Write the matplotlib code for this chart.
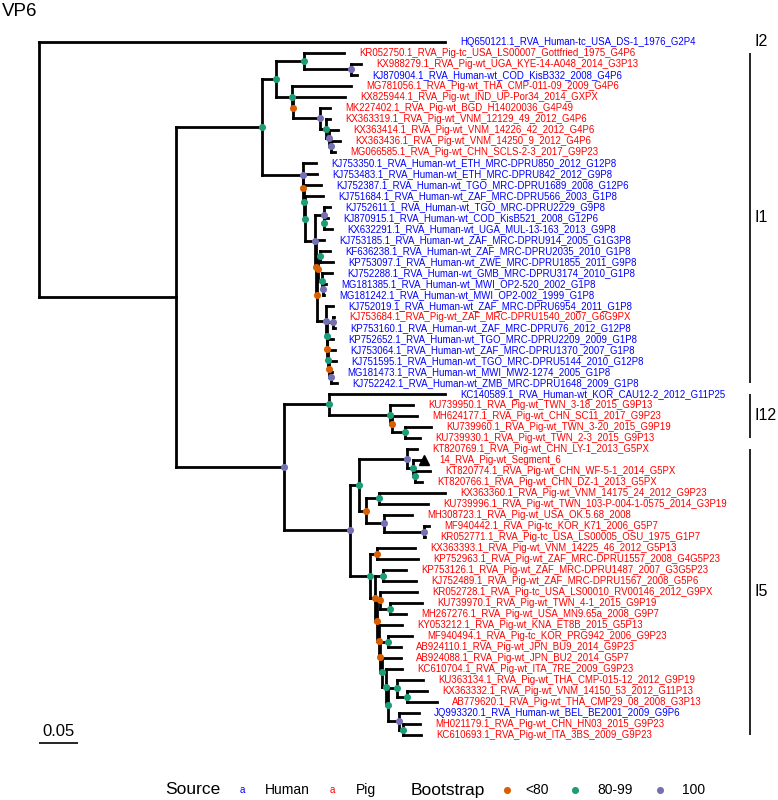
import re
import matplotlib
matplotlib.use("Agg")
import matplotlib.pyplot as plt
from matplotlib.collections import LineCollection

plt.rcParams['font.family'] = ['Liberation Sans', 'DejaVu Sans']

# ---------------- data ----------------
# VP6 phylogeny (branch lengths in substitutions/site); internal labels = bootstrap class
# o: <80, g: 80-99, p: 100
TREE_NEWICK = """
(HQ650121.1_RVA_Human-tc_USA_DS-1_1976_G2P4:0.5205,
 (
  (
   (
    (KR052750.1_RVA_Pig-tc_USA_LS00007_Gottfried_1975_G4P6:0.0513,
     (KX988279.1_RVA_Pig-wt_UGA_KYE-14-A048_2014_G3P13:0.0128,
      KJ870904.1_RVA_Human-wt_COD_KisB332_2008_G4P6:0.0077)p:0.0603)g:0.0359,
    (MG781056.1_RVA_Pig-wt_THA_CMP-011-09_2009_G4P6:0.0756,
     (KX825944.1_RVA_Pig-wt_IND_UP-Por34_2014_GXPX:0.0667,
      (MK227402.1_RVA_Pig-wt_BGD_H14020036_G4P49:0.0128,
       (KX363319.1_RVA_Pig-wt_VNM_12129_49_2012_G4P6:0.0051,
        (KX363414.1_RVA_Pig-wt_VNM_14226_42_2012_G4P6:0.0115,
         (KX363436.1_RVA_Pig-wt_VNM_14250_9_2012_G4P6:0.0115,
          MG066585.1_RVA_Pig-wt_CHN_SCLS-2-3_2017_G9P23:0.0051)p:0.0026)p:0.0038)g:0.0077)p:0.0346)o:0.0013)g:0.0205
   )g:0.0179,
   (KJ753350.1_RVA_Human-wt_ETH_MRC-DPRU850_2012_G12P8:0.0167,
    (KJ753483.1_RVA_Human-wt_ETH_MRC-DPRU842_2012_G9P8:0.0179,
     (KJ752387.1_RVA_Human-wt_TGO_MRC-DPRU1689_2008_G12P6:0.0218,
      (KJ751684.1_RVA_Human-wt_ZAF_MRC-DPRU566_2003_G1P8:0.0231,
       (
        (KJ752611.1_RVA_Human-wt_TGO_MRC-DPRU2229_G9P8:0.0077,
         (KJ870915.1_RVA_Human-wt_COD_KisB521_2008_G12P6:0.0051,
          KX632291.1_RVA_Human-wt_UGA_MUL-13-163_2013_G9P8:0.0103)g:0.0005)p:0.0115,
        (KJ753185.1_RVA_Human-wt_ZAF_MRC-DPRU914_2005_G1G3P8:0.0103,
         (
          ((KF636238.1_RVA_Human-wt_ZAF_MRC-DPRU2035_2010_G1P8:0.0128,
            KP753097.1_RVA_Human-wt_ZWE_MRC-DPRU1855_2011_G9P8:0.0167)g:0.0026,
           (KJ752288.1_RVA_Human-wt_GMB_MRC-DPRU3174_2010_G1P8:0.0128,
            (MG181385.1_RVA_Human-wt_MWI_OP2-520_2002_G1P8:0.0038,
             MG181242.1_RVA_Human-wt_MWI_OP2-002_1999_G1P8:0.0013)p:0.0013)g:0.0051)o:0.0013,
          (KJ752019.1_RVA_Human-wt_ZAF_MRC-DPRU6954_2011_G1P8:0.0090,
           ((KJ753684.1_RVA_Pig-wt_ZAF_MRC-DPRU1540_2007_G6G9PX:0.0013,
             KP753160.1_RVA_Human-wt_ZAF_MRC-DPRU76_2012_G12P8:0.0026)p:0.0077,
            (KP752652.1_RVA_Human-wt_TGO_MRC-DPRU2209_2009_G1P8:0.0077,
             (KJ753064.1_RVA_Human-wt_ZAF_MRC-DPRU1370_2007_G1P8:0.0090,
              (KJ751595.1_RVA_Human-wt_TGO_MRC-DPRU5144_2010_G12P8:0.0090,
               (MG181473.1_RVA_Human-wt_MWI_MW2-1274_2005_G1P8:0.0013,
                KJ752242.1_RVA_Human-wt_ZMB_MRC-DPRU1648_2009_G1P8:0.0077)p:0.0026)o:0.0013)g:0.0013)o:0.0005)g:0.0013)p:0.0115
         )o:0.0013
        )o:0.0013
       )p:0.0128
      )g:0.0005)g:0.0013)o:0.0005)p:0.0526
  )g:0.1103,
  (
   (KC140589.1_RVA_Human-wt_KOR_CAU12-2_2012_G11P25:0.1487,
    (KU739950.1_RVA_Pig-wt_TWN_3-18_2015_G9P13:0.0295,
     (MH624177.1_RVA_Pig-wt_CHN_SC11_2017_G9P23:0.0321,
      (KU739960.1_RVA_Pig-wt_TWN_3-20_2015_G9P19:0.0333,
       KU739930.1_RVA_Pig-wt_TWN_2-3_2015_G9P13:0.0192)g:0.0167)o:0.0026)g:0.0782)g:0.0577,
   (
    (
     (KT820769.1_RVA_Pig-wt_CHN_LY-1_2013_G5PX:0.0128,
      (14_RVA_Pig-wt_Segment_6:0.0141,
       (KT820774.1_RVA_Pig-wt_CHN_WF-5-1_2014_G5PX:0.0192,
        KT820766.1_RVA_Pig-wt_CHN_DZ-1_2013_G5PX:0.0090)g:0.0026)g:0.0077)p:0.0615,
     ((KX363360.1_RVA_Pig-wt_VNM_14175_24_2012_G9P23:0.0846,
       KU739996.1_RVA_Pig-wt_TWN_103-P-004-1-0575_2014_G3P19:0.0628)g:0.0167,
      (MH308723.1_RVA_Pig-wt_USA_OK.5.68_2008:0.0359,
       (MF940442.1_RVA_Pig-tc_KOR_K71_2006_G5P7:0.0064,
        KR052771.1_RVA_Pig-tc_USA_LS00005_OSU_1975_G1P7:0.0013)p:0.0513)p:0.0231)o:0.0090
    )g:0.0115,
    (
     (KX363393.1_RVA_Pig-wt_VNM_14225_46_2012_G5P13:0.0487,
      KP752963.1_RVA_Pig-wt_ZAF_MRC-DPRU1557_2008_G4G5P23:0.0526)o:0.0090,
     (
      (KP753126.1_RVA_Pig-wt_ZAF_MRC-DPRU1487_2007_G3G5P23:0.0295,
       KJ752489.1_RVA_Pig-wt_ZAF_MRC-DPRU1567_2008_G5P6:0.0423)g:0.0103,
      (
       (KR052728.1_RVA_Pig-tc_USA_LS00010_RV00146_2012_G9PX:0.0474,
        (KU739970.1_RVA_Pig-wt_TWN_4-1_2015_G9P19:0.0410,
         MH267276.1_RVA_Pig-wt_USA_MN9.65a_2008_G9P7:0.0205)g:0.0128)o:0.0038,
       (KY053212.1_RVA_Pig-wt_KNA_ET8B_2015_G5P13:0.0295,
        ((MF940494.1_RVA_Pig-tc_KOR_PRG942_2006_G9P23:0.0308,
          AB924110.1_RVA_Pig-wt_JPN_BU9_2014_G9P23:0.0167)g:0.0103,
         (AB924088.1_RVA_Pig-wt_JPN_BU2_2014_G5P7:0.0244,
          (KC610704.1_RVA_Pig-wt_ITA_7RE_2009_G9P23:0.0205,
           ((KU363134.1_RVA_Pig-wt_THA_CMP-015-12_2012_G9P19:0.0333,
             (KX363332.1_RVA_Pig-wt_VNM_14150_53_2012_G11P13:0.0256,
              AB779620.1_RVA_Pig-wt_THA_CMP29_08_2008_G3P13:0.0385)g:0.0128)g:0.0115,
            (JQ993320.1_RVA_Human-wt_BEL_BE2001_2009_G9P6:0.0256,
             (MH021179.1_RVA_Pig-wt_CHN_HN03_2015_G9P23:0.0218,
              KC610693.1_RVA_Pig-wt_ITA_3BS_2009_G9P23:0.0231)g:0.0051)p:0.0141)g:0.0026)g:0.0051)g:0.0026)o:0.0013)o:0.0026
      )o:0.0026
     )o:0.0064
    )g:0.0256
   )p:0.0846
  )p:0.1385
 ):0.1756
);
"""

bootstrap_codes = {'o': '<80', 'g': '80-99', 'p': '100'}
bootstrap_levels = ['<80', '80-99', '100']
bootstrap_colors = ['#D95F02', '#1B9E77', '#7570B3']
source_levels = ['Human', 'Pig']
source_colors = ['#0000FF', '#FF0000']

clade_names = ['I2', 'I1', 'I12', 'I5']
clade_first = ['HQ650121.1_RVA_Human-tc_USA_DS-1_1976_G2P4',
               'KR052750.1_RVA_Pig-tc_USA_LS00007_Gottfried_1975_G4P6',
               'KC140589.1_RVA_Human-wt_KOR_CAU12-2_2012_G11P25',
               'KT820769.1_RVA_Pig-wt_CHN_LY-1_2013_G5PX']
clade_last = ['HQ650121.1_RVA_Human-tc_USA_DS-1_1976_G2P4',
              'KJ752242.1_RVA_Human-wt_ZMB_MRC-DPRU1648_2009_G1P8',
              'KU739930.1_RVA_Pig-wt_TWN_2-3_2015_G9P13',
              'KC610693.1_RVA_Pig-wt_ITA_3BS_2009_G9P23']
marked_tips = ['14_RVA_Pig-wt_Segment_6']
scale_length = 0.05
title = 'VP6'

# ---------------- parse ----------------
def parse_newick(s):
    s = re.sub(r"\s+", "", s)
    pos = 0

    def node():
        nonlocal pos
        n = {'children': [], 'name': '', 'length': 0.0}
        if s[pos] == '(':
            pos += 1
            while True:
                n['children'].append(node())
                if s[pos] == ',':
                    pos += 1
                    continue
                if s[pos] == ')':
                    pos += 1
                    break
        m = re.match(r"[^:,();]*", s[pos:])
        n['name'] = m.group(0)
        pos += len(n['name'])
        if pos < len(s) and s[pos] == ':':
            pos += 1
            m = re.match(r"[0-9.eE+-]+", s[pos:])
            n['length'] = float(m.group(0))
            pos += len(m.group(0))
        return n

    return node()


root = parse_newick(TREE_NEWICK)
tips = []


def layout(n, x0):
    n['x'] = x0 + n['length']
    if n['children']:
        for c in n['children']:
            layout(c, n['x'])
        n['y'] = sum(c['y'] for c in n['children']) / len(n['children'])
    else:
        n['y'] = len(tips)
        tips.append(n)


root['length'] = 0.0
layout(root, 0.0)

# ---------------- figure ----------------
W, H, DPI = 778, 800, 100
ROOT_PX, UNIT_PX = 39, 780.0      # pixel of root, pixels per substitution unit
TIP0_PX, STEP_PX = 42, 11.0       # pixel of first tip, tip spacing

fig = plt.figure(figsize=(W / DPI, H / DPI), dpi=DPI)
ax = fig.add_axes([0, 0, 1, 1])
ax.set_xlim(-ROOT_PX / UNIT_PX, (W - ROOT_PX) / UNIT_PX)
ax.set_ylim((H - TIP0_PX) / STEP_PX, -TIP0_PX / STEP_PX)
ax.axis('off')

segs = []
pts = {lvl: ([], []) for lvl in bootstrap_levels}


def collect(n, parent=None):
    if parent is not None:
        segs.append([(parent['x'], n['y']), (n['x'], n['y'])])
    if n['children']:
        ys = [c['y'] for c in n['children']]
        segs.append([(n['x'], min(ys)), (n['x'], max(ys))])
        lvl = bootstrap_codes.get(n['name'])
        if lvl:
            pts[lvl][0].append(n['x'])
            pts[lvl][1].append(n['y'])
        for c in n['children']:
            collect(c, n)


collect(root)
ax.add_collection(LineCollection(segs, colors='black', linewidths=2.0,
                                 capstyle='projecting', zorder=2))
for lvl, col in zip(bootstrap_levels, bootstrap_colors):
    ax.scatter(pts[lvl][0], pts[lvl][1], s=26, color=col, zorder=3, linewidths=0)

label_offset = 15 / UNIT_PX
for t in tips:
    src = 'Human' if 'Human' in t['name'] else 'Pig'
    col = source_colors[source_levels.index(src)]
    ax.text(t['x'] + label_offset, t['y'], t['name'], color=col, fontsize=6.9,
            ha='left', va='center', zorder=4)
    if t['name'] in marked_tips:
        ax.plot([t['x']], [t['y']], marker='^', color='black', markersize=6.5, zorder=4)

# clade bars
tip_y = {t['name']: t['y'] for t in tips}
bar_x = (750 - ROOT_PX) / UNIT_PX
for name, a, b in zip(clade_names, clade_first, clade_last):
    y0, y1 = tip_y[a], tip_y[b]
    ax.plot([bar_x, bar_x], [y0, y1], color='black', linewidth=1.2, solid_capstyle='butt')
    ax.text(bar_x + 5 / UNIT_PX, (y0 + y1) / 2, name, fontsize=11.5,
            ha='left', va='center')

# scale bar
sb_y = (743 - TIP0_PX) / STEP_PX
ax.plot([0, scale_length], [sb_y, sb_y], color='black', linewidth=1.2,
        solid_capstyle='butt')
ax.text(scale_length / 2, (731 - TIP0_PX) / STEP_PX, f'{scale_length:g}',
        fontsize=12, ha='center', va='center')

# title
fig.text(2 / W, 1 - 12 / H, title, fontsize=13.5, ha='left', va='center')

# legend (pixel overlay)
lax = fig.add_axes([0, 0, 1, 1])
lax.set_xlim(0, W)
lax.set_ylim(H, 0)
lax.axis('off')
LY = 790
lax.text(165, LY, 'Source', fontsize=12.5, ha='left', va='center')
for (kx, tx), lvl, col in zip([(242, 265), (332, 356)], source_levels, source_colors):
    lax.text(kx, LY, 'a', color=col, fontsize=7, ha='center', va='center')
    lax.text(tx, LY, lvl, fontsize=10, ha='left', va='center')
lax.text(411, LY, 'Bootstrap', fontsize=12.5, ha='left', va='center')
for (kx, tx), lvl, col in zip([(507, 525), (575, 597), (660, 682)],
                              bootstrap_levels, bootstrap_colors):
    lax.scatter([kx], [LY], s=26, color=col, linewidths=0)
    lax.text(tx, LY, lvl, fontsize=10, ha='left', va='center')

fig.savefig('out.png', dpi=DPI)
